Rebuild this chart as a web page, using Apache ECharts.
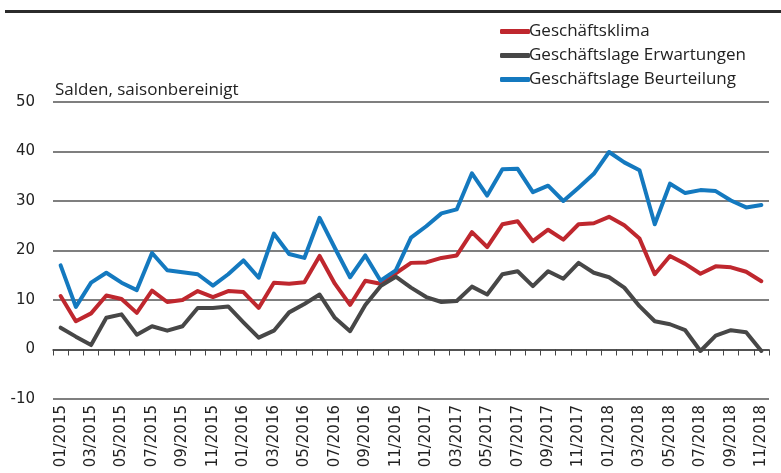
<!DOCTYPE html>
<html><head><meta charset="utf-8">
<script src="https://cdn.jsdelivr.net/npm/echarts@6/dist/echarts.min.js"></script>
<style>html,body{margin:0;padding:0;background:#fff}#c{width:781px;height:473px}</style>
</head><body><div id="c"></div>
<script>
const months = [];
const years = [2015, 2016, 2017, 2018];
years.forEach(y => { for (let m = 1; m <= 12; m++) { if (y === 2018 && m > 11) break; months.push((m < 10 ? '0' : '') + m + '/' + y); } });

const klima = [10.8, 5.7, 7.3, 10.9, 10.2, 7.4, 11.9, 9.6, 10.0, 11.8, 10.6, 11.8,
  11.6, 8.4, 13.5, 13.3, 13.6, 18.9, 13.3, 9.0, 13.9, 13.3, 15.4, 17.5,
  17.6, 18.5, 19.0, 23.7, 20.7, 25.3, 25.9, 21.9, 24.2, 22.2, 25.3, 25.5,
  26.8, 25.1, 22.4, 15.2, 18.9, 17.3, 15.3, 16.8, 16.6, 15.7, 13.8];
const erwartungen = [4.4, 2.6, 0.9, 6.4, 7.1, 3.0, 4.7, 3.8, 4.7, 8.4, 8.4, 8.7,
  5.5, 2.4, 3.8, 7.5, 9.2, 11.1, 6.4, 3.7, 9.0, 12.8, 14.7, 12.5,
  10.6, 9.6, 9.8, 12.7, 11.1, 15.2, 15.8, 12.8, 15.8, 14.3, 17.5, 15.5,
  14.6, 12.5, 8.75, 5.7, 5.1, 3.9, -0.3, 2.8, 3.9, 3.5, -0.3];
const beurteilung = [17.0, 8.6, 13.5, 15.5, 13.5, 12.0, 19.5, 16.0, 15.6, 15.2, 12.9, 15.2,
  18.0, 14.5, 23.4, 19.3, 18.5, 26.6, 20.5, 14.6, 19.0, 13.9, 16.0, 22.6,
  24.9, 27.5, 28.3, 35.6, 31.1, 36.4, 36.5, 31.8, 33.1, 30.0, 32.7, 35.5,
  39.9, 37.8, 36.2, 25.3, 33.5, 31.6, 32.2, 32.0, 30.1, 28.7, 29.2];
const seriesNames = ['Geschäftsklima', 'Geschäftslage Erwartungen', 'Geschäftslage Beurteilung'];
const yTicks = [-10, 0, 10, 20, 30, 40, 50];

const narrow = '"Open Sans", sans-serif';
const chart = echarts.init(document.getElementById('c'), null, {renderer: 'canvas'});
const mk = (name, data, color) => ({
  name, type: 'line', data, symbol: 'none', smooth: false,
  lineStyle: {width: 4, color, join: 'round', cap: 'round'}, itemStyle: {color}
});
chart.setOption({
  animation: false,
  backgroundColor: '#fff',
  graphic: [{type: 'rect', shape: {x: 5, y: 10, width: 776, height: 3}, style: {fill: '#2b2b2b'}}],
  legend: {
    orient: 'vertical', left: 495, top: 18, itemGap: 7,
    icon: 'roundRect', itemWidth: 30, itemHeight: 5,
    textStyle: {fontFamily: narrow, fontSize: 17, color: '#222', padding: [0, 0, 0, -6]},
    data: seriesNames
  },
  grid: {left: 53, right: 12, top: 102, bottom: 74},
  xAxis: {
    type: 'category', data: months, boundaryGap: true,
    axisLine: {lineStyle: {color: '#444', width: 1.5}},
    axisTick: {show: true, interval: 0, length: 6, lineStyle: {color: '#444', width: 1}},
    axisLabel: {interval: 1, rotate: 90, fontFamily: '"DejaVu Sans", sans-serif', fontSize: 15, color: '#222', margin: 6}
  },
  yAxis: {
    type: 'value', min: yTicks[0], max: yTicks[yTicks.length - 1], interval: 10,
    name: 'Salden, saisonbereinigt', nameLocation: 'end', nameGap: 3,
    nameTextStyle: {fontFamily: narrow, fontSize: 17, color: '#222', align: 'left', verticalAlign: 'bottom', padding: [0, 0, 0, 2]},
    axisLine: {show: false}, axisTick: {show: false},
    axisLabel: {fontFamily: '"DejaVu Sans", sans-serif', fontSize: 15, color: '#222', margin: 18},
    splitLine: {lineStyle: {color: '#555', width: 1.5}}
  },
  series: [
    mk(seriesNames[0], klima, '#BF272E'),
    mk(seriesNames[1], erwartungen, '#474747'),
    mk(seriesNames[2], beurteilung, '#1479BF')
  ]
});
</script></body></html>
